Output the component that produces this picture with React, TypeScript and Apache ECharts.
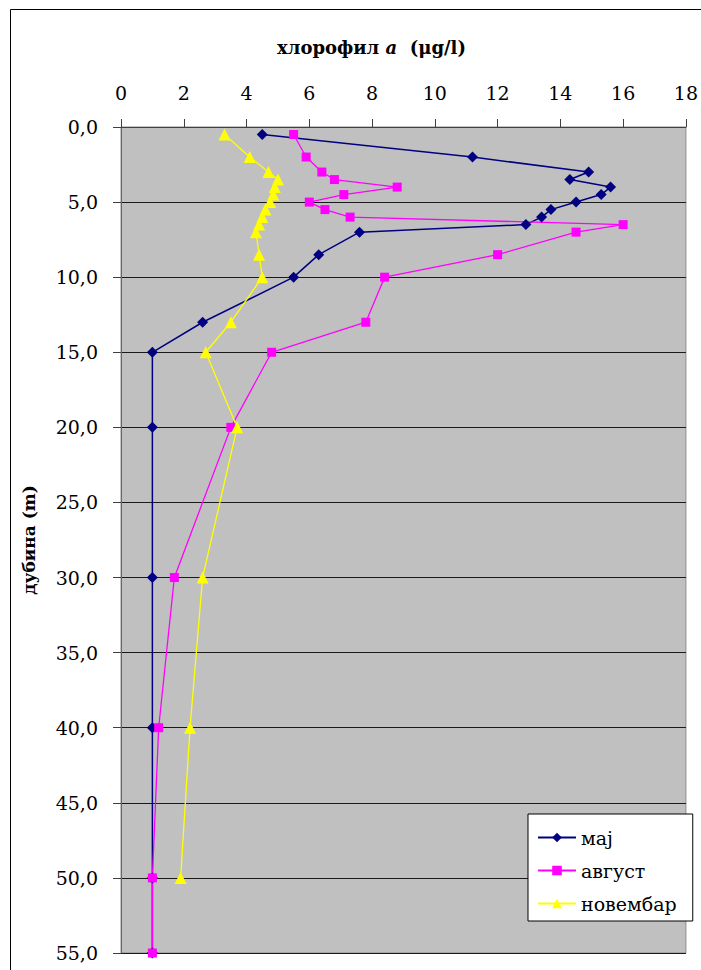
import React, { useEffect, useRef } from "react";
import * as echarts from "echarts";

// Sampling depths (m)
const depthsMaj = [0.5, 2, 3, 3.5, 4, 4.5, 5, 5.5, 6, 6.5, 7, 8.5, 10, 13, 15, 20, 30, 40, 50, 55];
const depthsAvgust = [0.5, 2, 3, 3.5, 4, 4.5, 5, 5.5, 6, 6.5, 7, 8.5, 10, 13, 15, 20, 30, 40, 50, 55];
const depthsNovembar = [0.5, 2, 3, 3.5, 4, 4.5, 5, 5.5, 6, 6.5, 7, 8.5, 10, 13, 15, 20, 30, 40, 50];

// Chlorophyll a (µg/l) at each depth
const chlMaj = [4.5, 11.2, 14.9, 14.3, 15.6, 15.3, 14.5, 13.7, 13.4, 12.9, 7.6, 6.3, 5.5, 2.6, 1.0, 1.0, 1.0, 1.0, 1.0, 1.0];
const chlAvgust = [5.5, 5.9, 6.4, 6.8, 8.8, 7.1, 6.0, 6.5, 7.3, 16.0, 14.5, 12.0, 8.4, 7.8, 4.8, 3.5, 1.7, 1.2, 1.0, 1.0];
const chlNovembar = [3.3, 4.1, 4.7, 5.0, 4.9, 4.85, 4.75, 4.6, 4.5, 4.4, 4.3, 4.4, 4.5, 3.5, 2.7, 3.7, 2.6, 2.2, 1.9];

const seriesNames = ["мај", "август", "новембар"];

const FONT = "DejaVu Serif";

const pairs = (xs: number[], ys: number[]) => xs.map((x, i) => [x, ys[i]]);

export default function App() {
  const ref = useRef<HTMLDivElement>(null);

  useEffect(() => {
    if (!ref.current) return;
    const chart = echarts.init(ref.current, undefined, { renderer: "svg" });
    chart.setOption({
      animation: false,
      backgroundColor: "#ffffff",
      textStyle: { fontFamily: FONT },
      title: {
        text: "{b|хлорофил }{i|a}{b|  (μg/l)}",
        left: 272,
        top: 33,
        textStyle: {
          fontFamily: FONT,
          rich: {
            b: { fontFamily: FONT, fontSize: 18, fontWeight: "bold", color: "#000" },
            i: { fontFamily: FONT, fontSize: 18, fontWeight: "bold", fontStyle: "italic", color: "#000" },
          },
        },
      },
      graphic: [
        {
          type: "rect",
          shape: { x: 10.5, y: 9.5, width: 760, height: 1000 },
          style: { fill: "none", stroke: "#000", lineWidth: 1 },
          silent: true,
          z: -1,
        },
      ],
      legend: {
        orient: "vertical",
        left: 528,
        top: 814,
        padding: [14, 16, 8, 9],
        itemWidth: 38,
        itemHeight: 12,
        itemGap: 14,
        backgroundColor: "#ffffff",
        borderColor: "#000",
        borderWidth: 1,
        textStyle: { fontFamily: FONT, fontSize: 19, color: "#000" },
        data: seriesNames,
      },
      grid: {
        left: 121,
        top: 127,
        width: 568,
        height: 826,
        show: true,
        backgroundColor: "#C0C0C0",
        borderColor: "#8c8c8c",
        borderWidth: 1,
      },
      xAxis: {
        type: "value",
        position: "top",
        min: 0,
        max: 18,
        interval: 2,
        axisLine: { show: true, lineStyle: { color: "#404040", width: 1 } },
        axisTick: { show: true, length: 8, lineStyle: { color: "#404040" } },
        axisLabel: { margin: 25, fontFamily: FONT, fontSize: 19, color: "#000" },
        splitLine: { show: false },
      },
      yAxis: {
        type: "value",
        inverse: true,
        min: 0,
        max: 55,
        interval: 5,
        name: "дубина (m)",
        nameLocation: "middle",
        nameGap: 84,
        nameRotate: 90,
        nameTextStyle: { fontFamily: FONT, fontSize: 17, fontWeight: "bold", color: "#000" },
        axisLine: { show: true, lineStyle: { color: "#666", width: 1 } },
        axisTick: { show: true, length: 8, lineStyle: { color: "#404040" } },
        axisLabel: {
          margin: 23,
          fontFamily: FONT,
          fontSize: 19,
          color: "#000",
          formatter: (v: number) => v.toFixed(1).replace(".", ","),
        },
        splitLine: { show: true, lineStyle: { color: "#1a1a1a", width: 1.2 } },
      },
      series: [
        {
          name: seriesNames[0],
          type: "line",
          data: pairs(chlMaj, depthsMaj),
          symbol: "diamond",
          symbolSize: 11,
          color: "#000080",
          lineStyle: { color: "#000080", width: 1.5 },
          itemStyle: { color: "#000080" },
        },
        {
          name: seriesNames[1],
          type: "line",
          data: pairs(chlAvgust, depthsAvgust),
          symbol: "rect",
          symbolSize: 9,
          color: "#FF00FF",
          lineStyle: { color: "#FF00FF", width: 1.3 },
          itemStyle: { color: "#FF00FF" },
        },
        {
          name: seriesNames[2],
          type: "line",
          data: pairs(chlNovembar, depthsNovembar),
          symbol: "triangle",
          symbolSize: 12,
          color: "#FFFF00",
          lineStyle: { color: "#FFFF00", width: 1.3 },
          itemStyle: { color: "#FFFF00" },
        },
      ],
    });
    return () => chart.dispose();
  }, []);

  return (
    <div
      ref={ref}
      style={{ position: "fixed", left: 0, top: 0, width: 701, height: 970 }}
    />
  );
}
